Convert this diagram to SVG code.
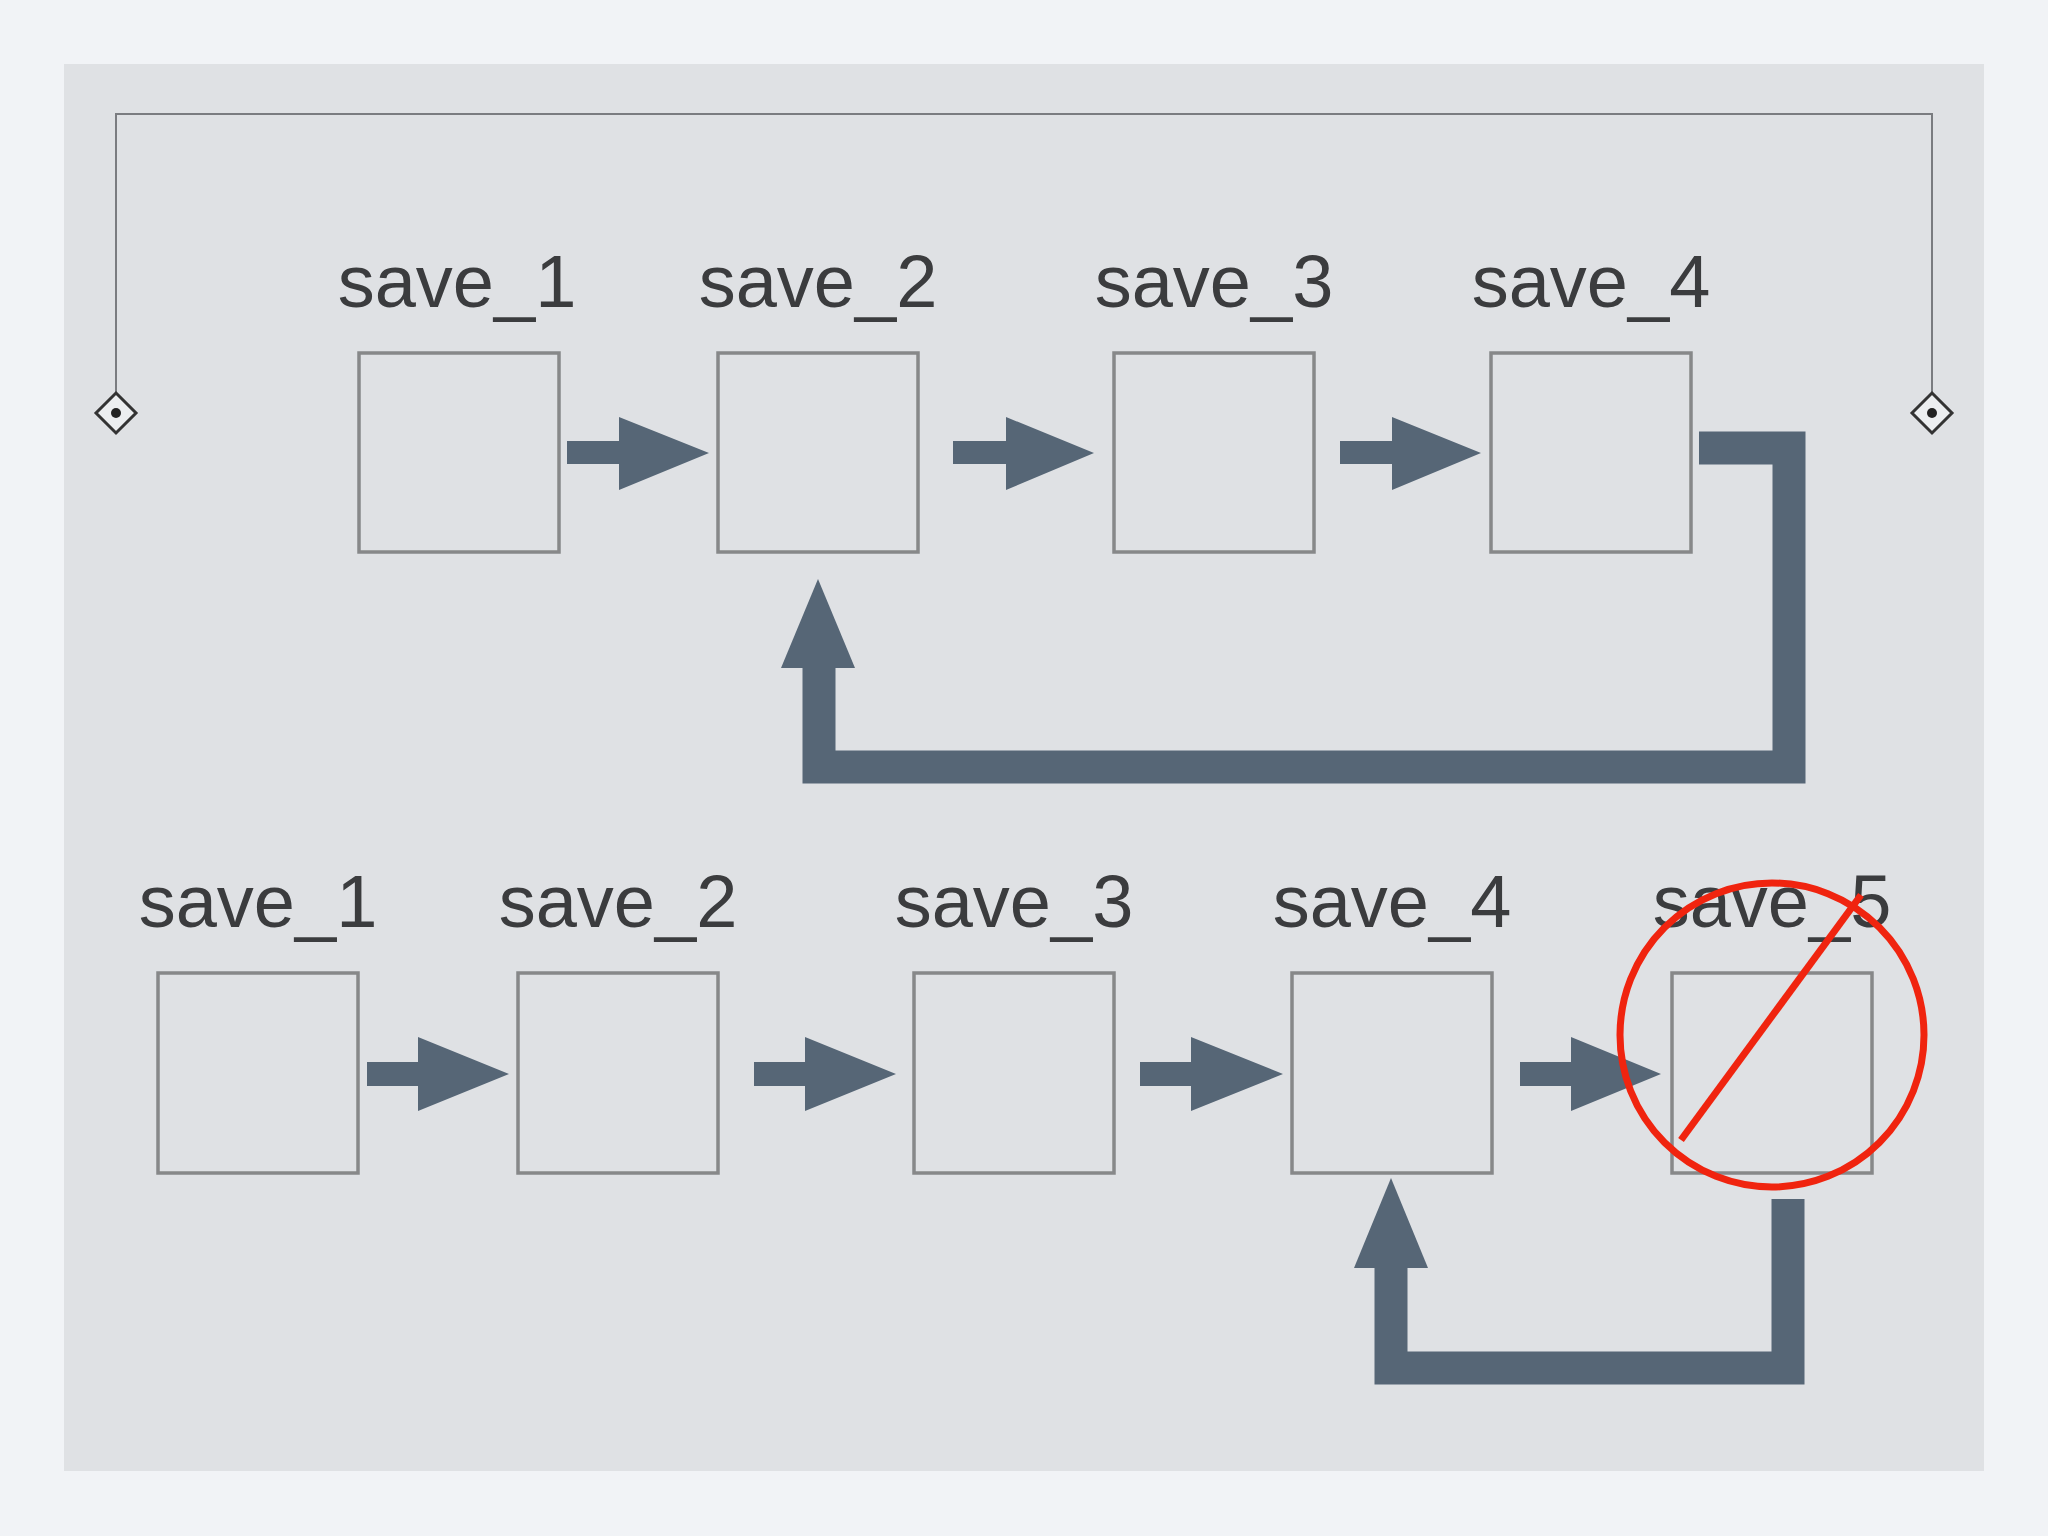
<svg xmlns="http://www.w3.org/2000/svg" width="2048" height="1536" viewBox="0 0 2048 1536">
<style>
.box{fill:#dfe1e4;stroke:#878889;stroke-width:3.5}
.lbl{font-family:"Liberation Sans",Arial,sans-serif;font-size:74px;fill:#3b3c3e;text-anchor:middle}
.ar{fill:#566676}
.ln{fill:none;stroke:#566676;stroke-width:33}
</style>
<rect width="2048" height="1536" fill="#f1f3f6"/>
<rect x="64" y="64" width="1920" height="1407" fill="#dfe1e4"/>
<g id="bracket" fill="none" stroke="#7a7c80" stroke-width="2">
<polyline points="116,394 116,114 1932,114 1932,394"/>
<path d="M116,393 L136,413 L116,433 L96,413 Z" stroke="#333" stroke-width="3" fill="#eceef0"/>
<path d="M1932,393 L1952,413 L1932,433 L1912,413 Z" stroke="#333" stroke-width="3" fill="#eceef0"/>
<circle cx="116" cy="413" r="5" fill="#222" stroke="none"/>
<circle cx="1932" cy="413" r="5" fill="#222" stroke="none"/>
</g>
<g id="top-row">
<g id="t1"><text class="lbl" x="457" y="307">save_1</text><rect class="box" x="359" y="353" width="200" height="199"/></g>
<g id="t2"><text class="lbl" x="818" y="307">save_2</text><rect class="box" x="718" y="353" width="200" height="199"/></g>
<g id="t3"><text class="lbl" x="1214" y="307">save_3</text><rect class="box" x="1114" y="353" width="200" height="199"/></g>
<g id="t4"><text class="lbl" x="1591" y="307">save_4</text><rect class="box" x="1491" y="353" width="200" height="199"/></g>
</g>
<g id="bottom-row">
<g id="b1"><text class="lbl" x="258" y="927">save_1</text><rect class="box" x="158" y="973" width="200" height="200"/></g>
<g id="b2"><text class="lbl" x="618" y="927">save_2</text><rect class="box" x="518" y="973" width="200" height="200"/></g>
<g id="b3"><text class="lbl" x="1014" y="927">save_3</text><rect class="box" x="914" y="973" width="200" height="200"/></g>
<g id="b4"><text class="lbl" x="1392" y="927">save_4</text><rect class="box" x="1292" y="973" width="200" height="200"/></g>
<g id="b5"><text class="lbl" x="1772" y="927">save_5</text><rect class="box" x="1672" y="973" width="200" height="200" fill="none"/></g>
</g>
<g id="connectors">
<path class="ar" d="M567,441 H619 V417 L709,453 L619,490 V464 H567 Z"/>
<path class="ar" d="M953,441 H1006 V417 L1094,453 L1006,490 V464 H953 Z"/>
<path class="ar" d="M1340,441 H1392 V417 L1481,453 L1392,490 V464 H1340 Z"/>
<path class="ar" d="M367,1062 H418 V1037 L509,1074 L418,1111 V1086 H367 Z"/>
<path class="ar" d="M754,1062 H805 V1037 L896,1074 L805,1111 V1086 H754 Z"/>
<path class="ar" d="M1140,1062 H1191 V1037 L1283,1074 L1191,1111 V1086 H1140 Z"/>
<path class="ar" d="M1520,1062 H1571 V1037 L1661,1074 L1571,1111 V1086 H1520 Z"/>
<polyline class="ln" points="1699,448 1789,448 1789,767 819,767 819,660"/>
<path class="ar" d="M781,668 L818,579 L855,668 Z"/>
<polyline class="ln" points="1788,1199 1788,1368 1391,1368 1391,1260"/>
<path class="ar" d="M1354,1268 L1391,1178 L1428,1268 Z"/>
</g>
<g id="forbidden" fill="none" stroke="#f0240f" stroke-width="7">
<circle cx="1772" cy="1035" r="152"/>
<line x1="1861" y1="895" x2="1681" y2="1140"/>
</g>
</svg>
